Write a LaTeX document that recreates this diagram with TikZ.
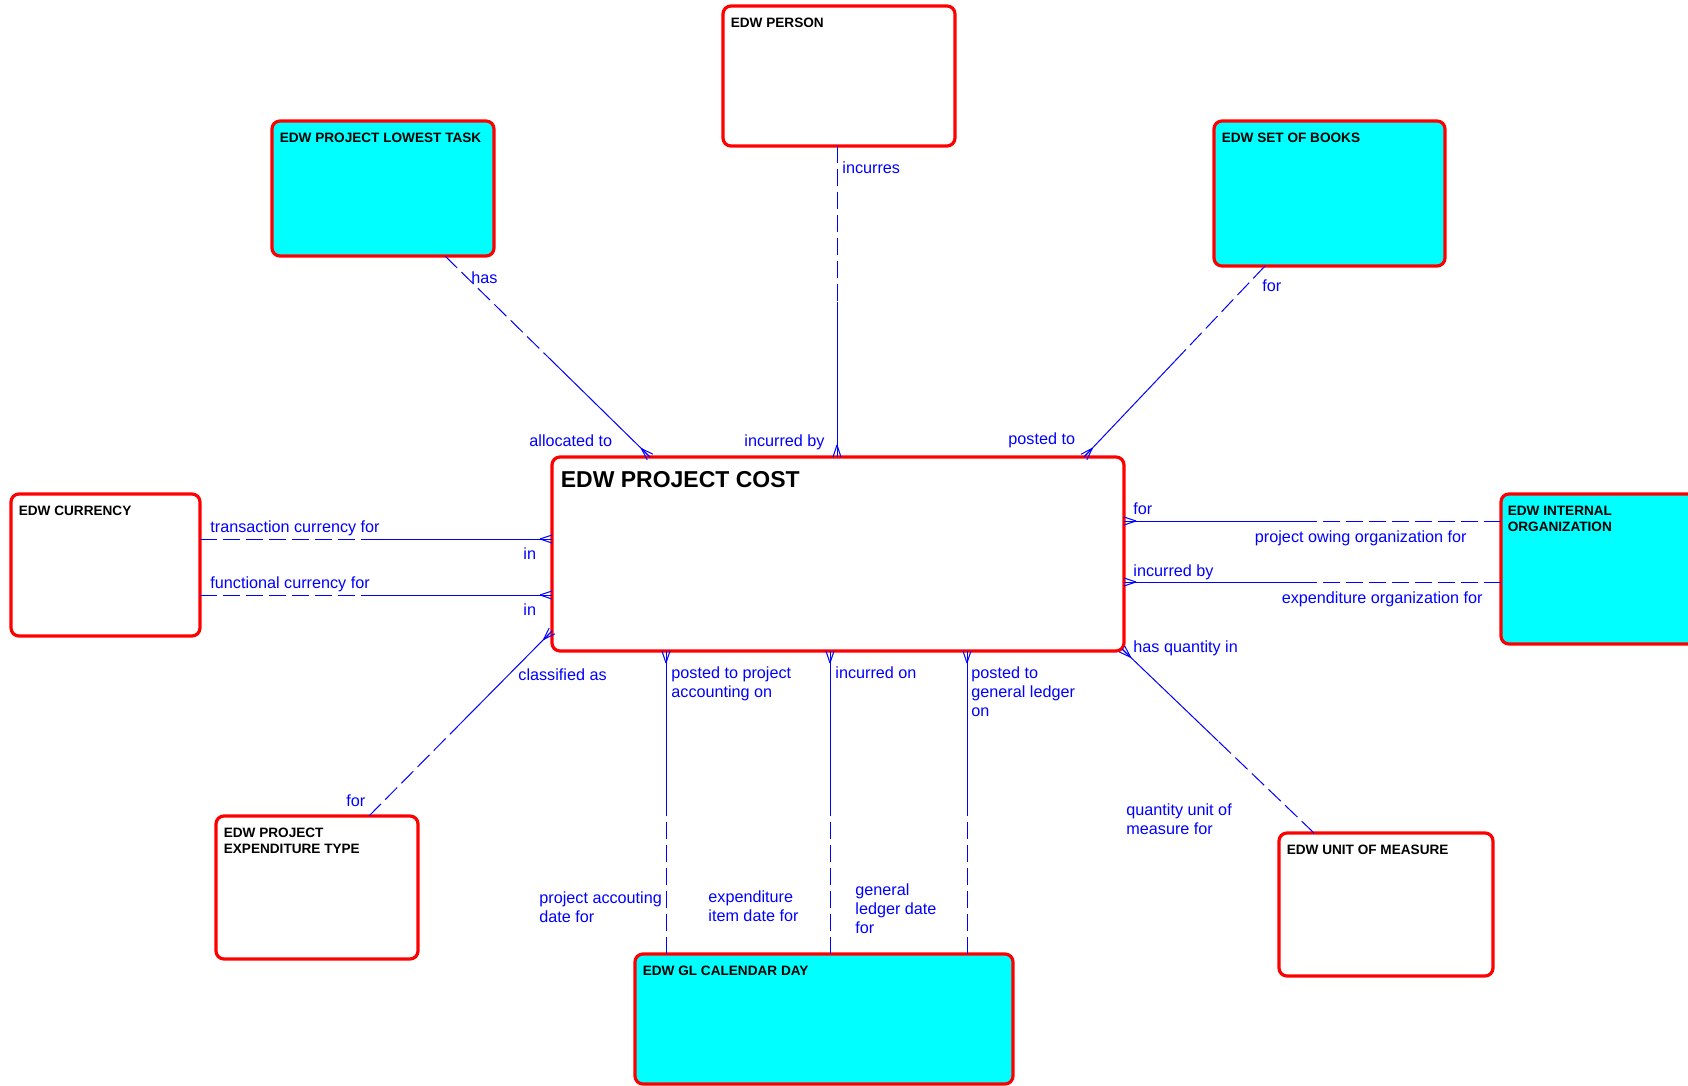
\documentclass[tikz,border=0pt]{standalone}
\usepackage{fontspec}
\setmainfont{Liberation Sans}
\usetikzlibrary{calc,fit}
\definecolor{erred}{RGB}{255,0,0}
\definecolor{ercyan}{RGB}{0,255,255}
\definecolor{erblue}{RGB}{0,0,255}
\tikzset{
 entity/.style={draw=erred, line width=1.6pt, rounded corners=4pt, inner sep=0pt},
 plainent/.style={entity, fill=white},
 refent/.style={entity, fill=ercyan},
 etitle/.style={anchor=north west, inner sep=0pt, font=\fontsize{6.8}{8}\selectfont\bfseries, align=left},
 conn/.style={draw=erblue, line width=0.5pt},
 dashpart/.style={conn, dash pattern=on 8.5pt off 3pt},
 rlab/.style={text=erblue, inner sep=0pt, font=\fontsize{8.1}{9.4}\selectfont, align=left},
}
\newcommand\rel[2]{%
 \draw[dashpart] (#1) -- ($(#1)!0.5!(#2)$);
 \draw[conn] ($(#1)!0.5!(#2)$) -- (#2);
 \draw[conn] ($(#2)!6pt!(#1)$) -- ($(#2)!2pt!90:(#1)$);
 \draw[conn] ($(#2)!6pt!(#1)$) -- (#2);
 \draw[conn] ($(#2)!6pt!(#1)$) -- ($(#2)!2pt!-90:(#1)$);
}
\begin{document}
\begin{tikzpicture}[x=0.5pt,y=-0.5pt]
\useasboundingbox (0,0) rectangle (1688,1086);
\clip (0,0) rectangle (1688,1086);
% entities
\node[plainent, fit={(552,457)(1124,651)}] (cost) {};
\node[plainent, fit={(723,6)(955,146)}] (person) {};
\node[refent, fit={(272,121)(494,256)}] (task) {};
\node[refent, fit={(1214,121)(1445,266)}] (books) {};
\node[plainent, fit={(11,494)(200,636)}] (cur) {};
\node[refent, fit={(1501,494)(1730,644)}] (org) {};
\node[plainent, fit={(216,816)(418,959)}] (exptype) {};
\node[refent, fit={(635,954)(1013,1084)}] (gl) {};
\node[plainent, fit={(1279,833)(1493,976)}] (uom) {};
% titles
\node[etitle, font=\fontsize{11.5}{13}\selectfont\bfseries] (tcost) at ($(cost.north west)+(10,16)$) {EDW PROJECT COST};
\node[etitle] (tperson) at ($(person.north west)+(9,13)$) {EDW PERSON};
\node[etitle] (ttask) at ($(task.north west)+(9,13)$) {EDW PROJECT LOWEST TASK};
\node[etitle] (tbooks) at ($(books.north west)+(9,13)$) {EDW SET OF BOOKS};
\node[etitle] (tcur) at ($(cur.north west)+(9,13)$) {EDW CURRENCY};
\node[etitle] (torg) at ($(org.north west)+(8,13)$) {EDW INTERNAL\\ORGANIZATION};
\node[etitle] (texp) at ($(exptype.north west)+(9,13)$) {EDW PROJECT\\EXPENDITURE TYPE};
\node[etitle] (tgl) at ($(gl.north west)+(9,13)$) {EDW GL CALENDAR DAY};
\node[etitle] (tuom) at ($(uom.north west)+(9,13)$) {EDW UNIT OF MEASURE};
% connector end points
\coordinate (tA) at (445,256); \coordinate (tB) at (650,457);
\coordinate (pA) at (837,146); \coordinate (pB) at (837,457);
\coordinate (bA) at (1265,266); \coordinate (bB) at (1084,457);
\coordinate (c1A) at (200,539); \coordinate (c1B) at (552,539);
\coordinate (c2A) at (200,595); \coordinate (c2B) at (552,595);
\coordinate (o1A) at (1501,521); \coordinate (o1B) at (1124,521);
\coordinate (o2A) at (1501,582); \coordinate (o2B) at (1124,582);
\coordinate (eA) at (369,816); \coordinate (eB) at (552,631);
\coordinate (g1A) at (666,954); \coordinate (g1B) at (666,651);
\coordinate (g2A) at (830,954); \coordinate (g2B) at (830,651);
\coordinate (g3A) at (967,954); \coordinate (g3B) at (967,651);
\coordinate (uA) at (1314,833); \coordinate (uB) at (1122,649);
\rel{tA}{tB}
\rel{pA}{pB}
\rel{bA}{bB}
\rel{c1A}{c1B}
\rel{c2A}{c2B}
\rel{o1A}{o1B}
\rel{o2A}{o2B}
\rel{eA}{eB}
\rel{g1A}{g1B}
\rel{g2A}{g2B}
\rel{g3A}{g3B}
\rel{uA}{uB}
% labels
\node[rlab, anchor=base west] (l1) at (471,283) {has};
\node[rlab, anchor=base west] (l2) at (529,446) {allocated to};
\node[rlab, anchor=base west] (l3) at (842,174) {incurres};
\node[rlab, anchor=base west] (l4) at (744,446) {incurred by};
\node[rlab, anchor=base west] (l5) at (1262,292) {for};
\node[rlab, anchor=base west] (l6) at (1008,444) {posted to};
\node[rlab, anchor=base west] (l7) at (210,532) {transaction currency for};
\node[rlab, anchor=base west] (l8) at (523,559) {in};
\node[rlab, anchor=base west] (l9) at (210,588) {functional currency for};
\node[rlab, anchor=base west] (l10) at (523,615) {in};
\node[rlab, anchor=base west] (l11) at (1133,514) {for};
\node[rlab, anchor=base east] (l12) at (1467,542) {project owing organization for};
\node[rlab, anchor=base west] (l13) at (1133,576) {incurred by};
\node[rlab, anchor=base east] (l14) at (1483,603) {expenditure organization for};
\node[rlab, anchor=base west] (l15) at (1133,652) {has quantity in};
\node[rlab, anchor=base west] (l16) at (518,680) {classified as};
\node[rlab, anchor=base west] (l17) at (346,806) {for};
\node[rlab, anchor=north west] (l18) at (671,666.3) {posted to project\\accounting on};
\node[rlab, anchor=north west] (l19) at (835,666.3) {incurred on};
\node[rlab, anchor=north west] (l20) at (971,666.3) {posted to\\general ledger\\on};
\node[rlab, anchor=north west] (l21) at (539,891.3) {project accouting\\date for};
\node[rlab, anchor=north west] (l22) at (708,890.3) {expenditure\\item date for};
\node[rlab, anchor=north west] (l23) at (855,883.3) {general\\ledger date\\for};
\node[rlab, anchor=north west] (l24) at (1126,803.3) {quantity unit of\\measure for};
\end{tikzpicture}
\end{document}
